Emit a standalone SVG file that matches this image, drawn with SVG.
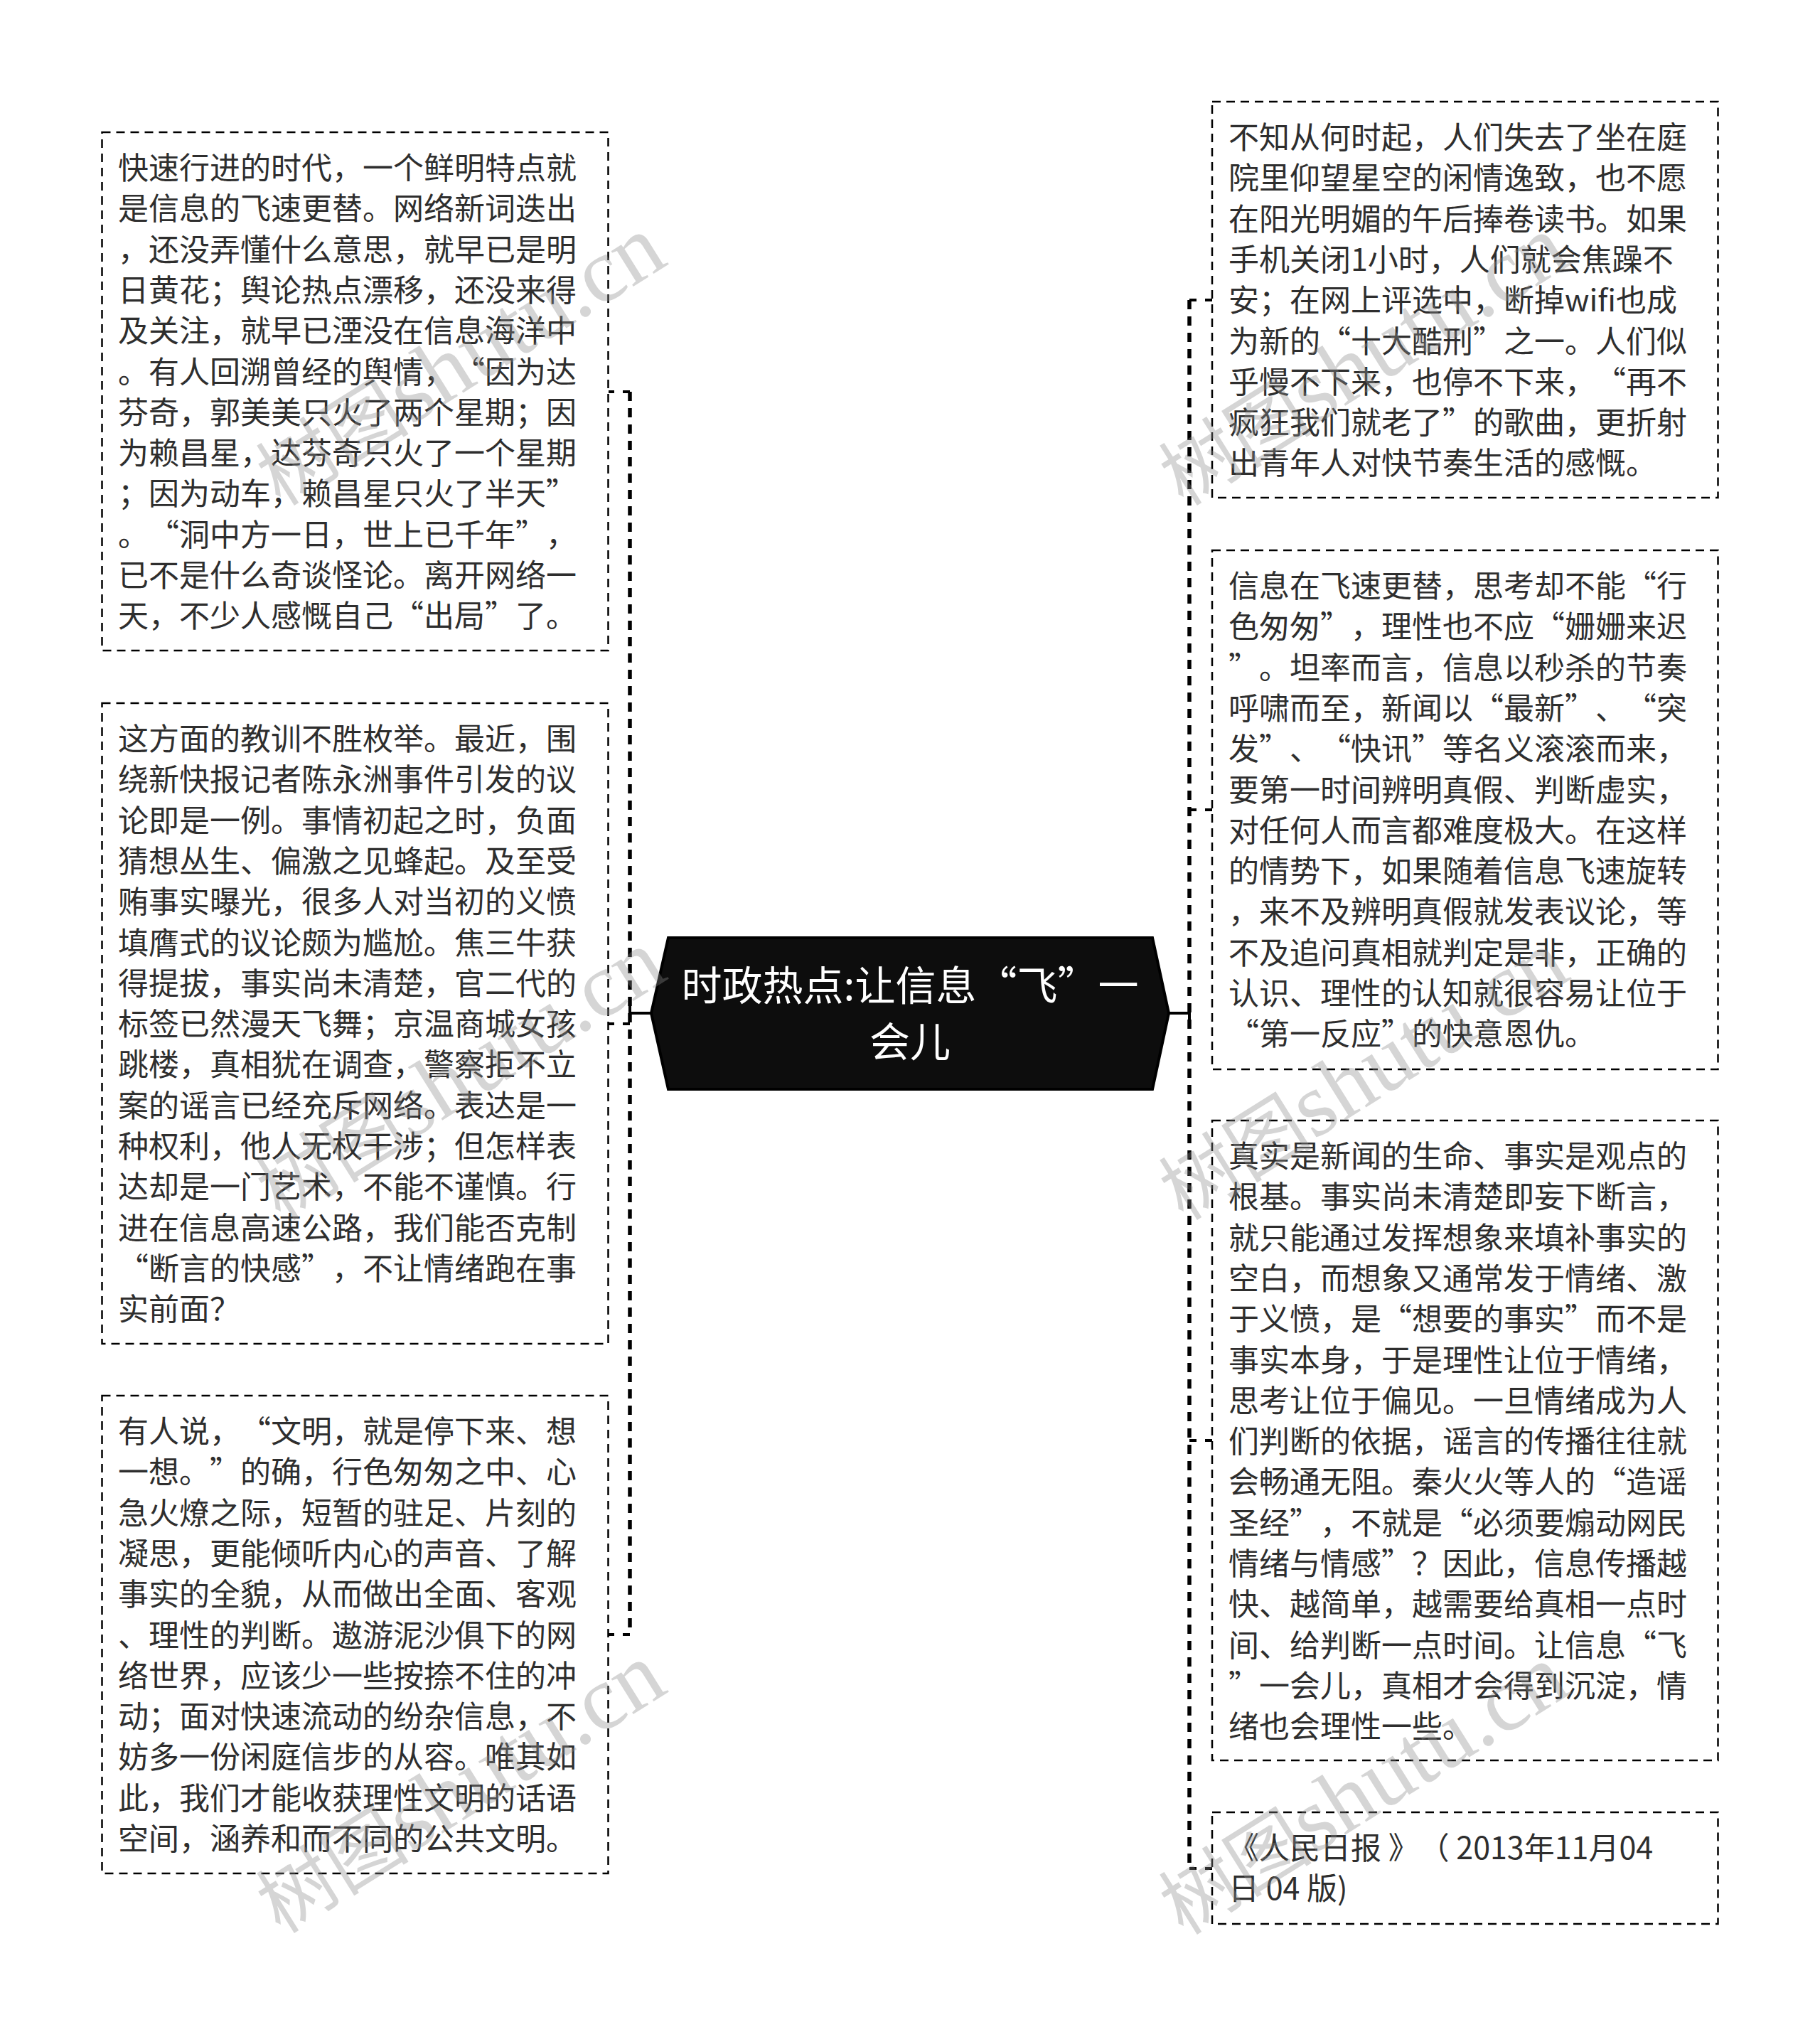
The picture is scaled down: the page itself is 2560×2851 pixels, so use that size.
<svg xmlns="http://www.w3.org/2000/svg" width="2560" height="2851" viewBox="0 0 2560 2851">
<style>
.bg{fill:#ffffff}
.box{fill:#ffffff;stroke:#000;stroke-width:2.5;stroke-dasharray:12 8}
.t{font-family:"Noto Sans CJK SC","Microsoft YaHei",sans-serif;font-size:43px;fill:#2e2e2e;text-spacing-trim:space-all;font-kerning:none}
.trunk{fill:none;stroke:#000;stroke-width:5.5;stroke-dasharray:13 10}
.branch{fill:none;stroke:#000;stroke-width:4;stroke-dasharray:10 12}
.solid{fill:none;stroke:#000;stroke-width:4}
.center{fill:#0d0d0d;stroke:#000;stroke-width:4}
.ct{font-family:"Noto Sans CJK SC","Microsoft YaHei",sans-serif;font-size:57px;fill:#ffffff;text-anchor:middle;text-spacing-trim:space-all}
.wm{font-family:"Liberation Serif","Noto Serif CJK SC","Noto Sans CJK SC",serif;font-size:128px;fill:#8c8c8c;opacity:0.36;text-anchor:middle}
.wmc{font-family:"Noto Sans CJK SC",sans-serif;font-size:108px}
</style>
<rect class="bg" x="0" y="0" width="2560" height="2851"/>

<g id="connectors">
  <line class="trunk" x1="886" y1="551" x2="886" y2="2299"/>
  <line class="branch" x1="886" y1="551" x2="856" y2="551"/>
  <line class="branch" x1="886" y1="1440" x2="856" y2="1440"/>
  <line class="branch" x1="886" y1="2299" x2="856" y2="2299"/>
  <line class="solid" x1="916" y1="1425" x2="886" y2="1425"/>
  <line class="solid" x1="886" y1="1413" x2="886" y2="1437"/>
  <line class="trunk" x1="1673" y1="422" x2="1673" y2="2628"/>
  <line class="branch" x1="1673" y1="422" x2="1705" y2="422"/>
  <line class="branch" x1="1673" y1="1139" x2="1705" y2="1139"/>
  <line class="branch" x1="1673" y1="2026" x2="1705" y2="2026"/>
  <line class="branch" x1="1673" y1="2628" x2="1705" y2="2628"/>
  <line class="solid" x1="1644" y1="1425" x2="1673" y2="1425"/>
  <line class="solid" x1="1673" y1="1413" x2="1673" y2="1437"/>
</g>

<g id="node-center">
  <polygon class="center" points="940,1319 1621,1319 1644,1425 1621,1532 940,1532 916,1425"/>
  <text class="ct"><tspan x="1280" y="1407">时政热点:让信息“飞”一</tspan><tspan x="1280" y="1486">会儿</tspan></text>
</g>

<g id="node-l1">
  <rect class="box" x="143.5" y="186" width="712" height="729"/>
  <text class="t">
    <tspan x="166" y="252">快速行进的时代，一个鲜明特点就</tspan>
    <tspan x="166" dy="57.3">是信息的飞速更替。网络新词迭出</tspan>
    <tspan x="166" dy="57.3">，还没弄懂什么意思，就早已是明</tspan>
    <tspan x="166" dy="57.3">日黄花；舆论热点漂移，还没来得</tspan>
    <tspan x="166" dy="57.3">及关注，就早已湮没在信息海洋中</tspan>
    <tspan x="166" dy="57.3">。有人回溯曾经的舆情，“因为达</tspan>
    <tspan x="166" dy="57.3">芬奇，郭美美只火了两个星期；因</tspan>
    <tspan x="166" dy="57.3">为赖昌星，达芬奇只火了一个星期</tspan>
    <tspan x="166" dy="57.3">；因为动车，赖昌星只火了半天”</tspan>
    <tspan x="166" dy="57.3">。“洞中方一日，世上已千年”，</tspan>
    <tspan x="166" dy="57.3">已不是什么奇谈怪论。离开网络一</tspan>
    <tspan x="166" dy="57.3">天，不少人感慨自己“出局”了。</tspan>
  </text>
</g>

<g id="node-l2">
  <rect class="box" x="143.5" y="989" width="712" height="901"/>
  <text class="t">
    <tspan x="166" y="1055">这方面的教训不胜枚举。最近，围</tspan>
    <tspan x="166" dy="57.3">绕新快报记者陈永洲事件引发的议</tspan>
    <tspan x="166" dy="57.3">论即是一例。事情初起之时，负面</tspan>
    <tspan x="166" dy="57.3">猜想丛生、偏激之见蜂起。及至受</tspan>
    <tspan x="166" dy="57.3">贿事实曝光，很多人对当初的义愤</tspan>
    <tspan x="166" dy="57.3">填膺式的议论颇为尴尬。焦三牛获</tspan>
    <tspan x="166" dy="57.3">得提拔，事实尚未清楚，官二代的</tspan>
    <tspan x="166" dy="57.3">标签已然漫天飞舞；京温商城女孩</tspan>
    <tspan x="166" dy="57.3">跳楼，真相犹在调查，警察拒不立</tspan>
    <tspan x="166" dy="57.3">案的谣言已经充斥网络。表达是一</tspan>
    <tspan x="166" dy="57.3">种权利，他人无权干涉；但怎样表</tspan>
    <tspan x="166" dy="57.3">达却是一门艺术，不能不谨慎。行</tspan>
    <tspan x="166" dy="57.3">进在信息高速公路，我们能否克制</tspan>
    <tspan x="166" dy="57.3">“断言的快感”，不让情绪跑在事</tspan>
    <tspan x="166" dy="57.3">实前面？</tspan>
  </text>
</g>

<g id="node-l3">
  <rect class="box" x="143.5" y="1963" width="712" height="672"/>
  <text class="t">
    <tspan x="166" y="2029">有人说，“文明，就是停下来、想</tspan>
    <tspan x="166" dy="57.3">一想。”的确，行色匆匆之中、心</tspan>
    <tspan x="166" dy="57.3">急火燎之际，短暂的驻足、片刻的</tspan>
    <tspan x="166" dy="57.3">凝思，更能倾听内心的声音、了解</tspan>
    <tspan x="166" dy="57.3">事实的全貌，从而做出全面、客观</tspan>
    <tspan x="166" dy="57.3">、理性的判断。遨游泥沙俱下的网</tspan>
    <tspan x="166" dy="57.3">络世界，应该少一些按捺不住的冲</tspan>
    <tspan x="166" dy="57.3">动；面对快速流动的纷杂信息，不</tspan>
    <tspan x="166" dy="57.3">妨多一份闲庭信步的从容。唯其如</tspan>
    <tspan x="166" dy="57.3">此，我们才能收获理性文明的话语</tspan>
    <tspan x="166" dy="57.3">空间，涵养和而不同的公共文明。</tspan>
  </text>
</g>

<g id="node-r1">
  <rect class="box" x="1705" y="143" width="711.5" height="557"/>
  <text class="t">
    <tspan x="1728" y="209">不知从何时起，人们失去了坐在庭</tspan>
    <tspan x="1728" dy="57.3">院里仰望星空的闲情逸致，也不愿</tspan>
    <tspan x="1728" dy="57.3">在阳光明媚的午后捧卷读书。如果</tspan>
    <tspan x="1728" dy="57.3">手机关闭1小时，人们就会焦躁不</tspan>
    <tspan x="1728" dy="57.3">安；在网上评选中，断掉wifi也成</tspan>
    <tspan x="1728" dy="57.3">为新的“十大酷刑”之一。人们似</tspan>
    <tspan x="1728" dy="57.3">乎慢不下来，也停不下来，“再不</tspan>
    <tspan x="1728" dy="57.3">疯狂我们就老了”的歌曲，更折射</tspan>
    <tspan x="1728" dy="57.3">出青年人对快节奏生活的感慨。</tspan>
  </text>
</g>

<g id="node-r2">
  <rect class="box" x="1705" y="774" width="711.5" height="730"/>
  <text class="t">
    <tspan x="1728" y="840">信息在飞速更替，思考却不能“行</tspan>
    <tspan x="1728" dy="57.3">色匆匆”，理性也不应“姗姗来迟</tspan>
    <tspan x="1728" dy="57.3">”。坦率而言，信息以秒杀的节奏</tspan>
    <tspan x="1728" dy="57.3">呼啸而至，新闻以“最新”、“突</tspan>
    <tspan x="1728" dy="57.3">发”、“快讯”等名义滚滚而来，</tspan>
    <tspan x="1728" dy="57.3">要第一时间辨明真假、判断虚实，</tspan>
    <tspan x="1728" dy="57.3">对任何人而言都难度极大。在这样</tspan>
    <tspan x="1728" dy="57.3">的情势下，如果随着信息飞速旋转</tspan>
    <tspan x="1728" dy="57.3">，来不及辨明真假就发表议论，等</tspan>
    <tspan x="1728" dy="57.3">不及追问真相就判定是非，正确的</tspan>
    <tspan x="1728" dy="57.3">认识、理性的认知就很容易让位于</tspan>
    <tspan x="1728" dy="57.3">“第一反应”的快意恩仇。</tspan>
  </text>
</g>

<g id="node-r3">
  <rect class="box" x="1705" y="1576" width="711.5" height="900"/>
  <text class="t">
    <tspan x="1728" y="1642">真实是新闻的生命、事实是观点的</tspan>
    <tspan x="1728" dy="57.3">根基。事实尚未清楚即妄下断言，</tspan>
    <tspan x="1728" dy="57.3">就只能通过发挥想象来填补事实的</tspan>
    <tspan x="1728" dy="57.3">空白，而想象又通常发于情绪、激</tspan>
    <tspan x="1728" dy="57.3">于义愤，是“想要的事实”而不是</tspan>
    <tspan x="1728" dy="57.3">事实本身，于是理性让位于情绪，</tspan>
    <tspan x="1728" dy="57.3">思考让位于偏见。一旦情绪成为人</tspan>
    <tspan x="1728" dy="57.3">们判断的依据，谣言的传播往往就</tspan>
    <tspan x="1728" dy="57.3">会畅通无阻。秦火火等人的“造谣</tspan>
    <tspan x="1728" dy="57.3">圣经”，不就是“必须要煽动网民</tspan>
    <tspan x="1728" dy="57.3">情绪与情感”？因此，信息传播越</tspan>
    <tspan x="1728" dy="57.3">快、越简单，越需要给真相一点时</tspan>
    <tspan x="1728" dy="57.3">间、给判断一点时间。让信息“飞</tspan>
    <tspan x="1728" dy="57.3">”一会儿，真相才会得到沉淀，情</tspan>
    <tspan x="1728" dy="57.3">绪也会理性一些。</tspan>
  </text>
</g>

<g id="node-r4">
  <rect class="box" x="1705" y="2549" width="711.5" height="157"/>
  <text class="t">
    <tspan x="1728" y="2615">《人民日报 》（ 2013年11月04</tspan>
    <tspan x="1728" dy="57.3">日 04 版)</tspan>
  </text>
</g>

<g id="watermarks">
  <text class="wm" transform="rotate(-32 650 512)" x="650" y="547"><tspan class="wmc">树图</tspan>shutu.cn</text>
  <text class="wm" transform="rotate(-32 650 1517)" x="650" y="1552"><tspan class="wmc">树图</tspan>shutu.cn</text>
  <text class="wm" transform="rotate(-32 650 2520)" x="650" y="2555"><tspan class="wmc">树图</tspan>shutu.cn</text>
  <text class="wm" transform="rotate(-32 1920 512)" x="1920" y="547"><tspan class="wmc">树图</tspan>shutu.cn</text>
  <text class="wm" transform="rotate(-32 1920 1517)" x="1920" y="1552"><tspan class="wmc">树图</tspan>shutu.cn</text>
  <text class="wm" transform="rotate(-32 1920 2522)" x="1920" y="2557"><tspan class="wmc">树图</tspan>shutu.cn</text>
</g>
</svg>
